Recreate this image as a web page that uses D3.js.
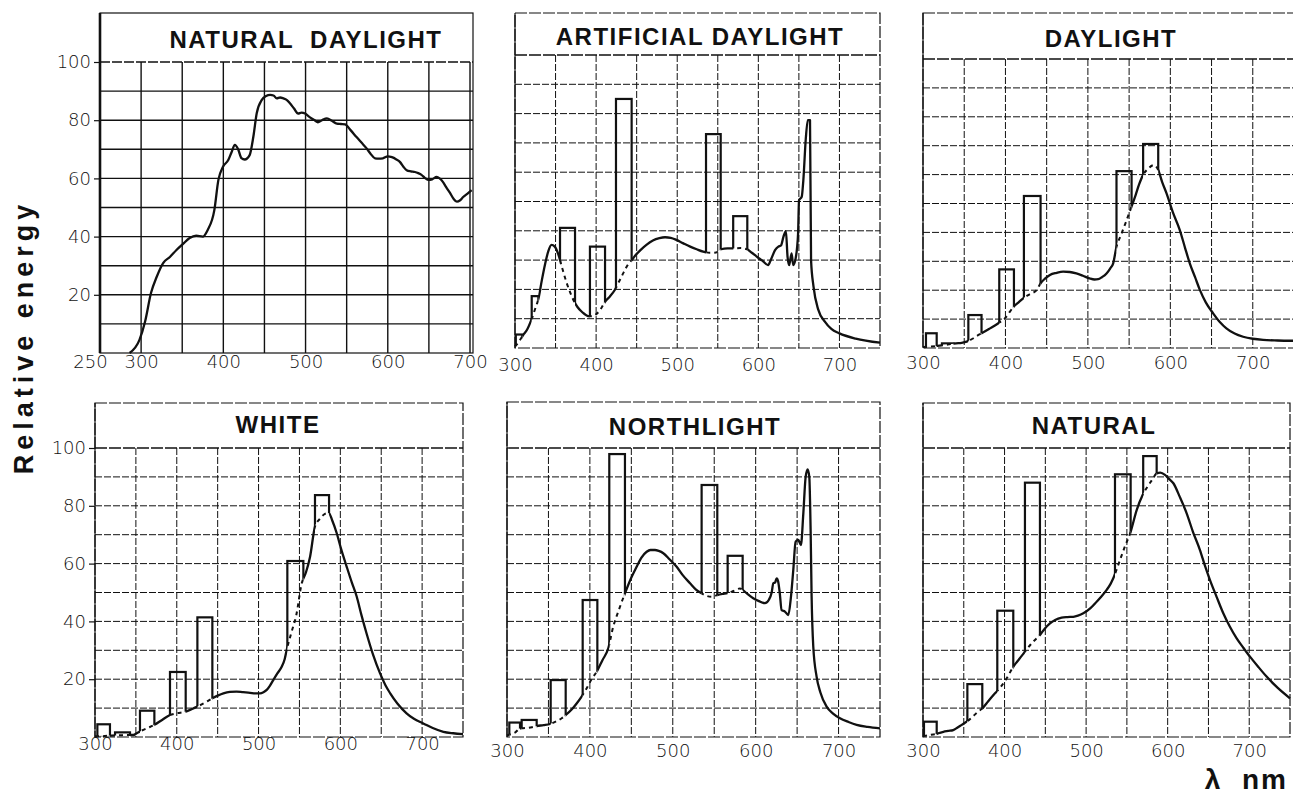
<!DOCTYPE html>
<html><head><meta charset="utf-8">
<script src="https://cdn.jsdelivr.net/npm/d3@7"></script>
<style>body{margin:0;background:#fff}svg{display:block}</style>
</head><body><svg id="c" width="1293" height="798"></svg>
<script>
// ---------------- DATA ----------------
const panelTitles = ["NATURAL  DAYLIGHT", "ARTIFICIAL DAYLIGHT", "DAYLIGHT", "WHITE", "NORTHLIGHT", "NATURAL"];
const xTicksFirst = [250, 300, 400, 500, 600, 700];
const xTicks = [300, 400, 500, 600, 700];
const yTicks = [20, 40, 60, 80, 100];
const yAxisLabel = "Relative energy";
const xAxisLabel = "λ  nm";

// [wavelength nm, relative energy]
const naturalDaylightCurve = [[286,0],[298,4.5],[305,11],[312,20.6],[319,26.2],[327,31],[335,33],[343,35.4],[351,37.5],[359,39.5],[367,40.3],[375,40],[381,42.3],[389,49],[394,59.5],[399.6,64],[406,66.3],[410,69],[414,71.5],[418,70],[422,67],[426,66.5],[432,68],[436.5,74.3],[440.6,82.4],[446.8,87],[452,88.3],[457,88.7],[461,88.5],[465,87.5],[469,87.8],[473,87.5],[477,87],[481,85.8],[486,84],[491,82.3],[495,82.6],[499.4,82.3],[503,81.5],[507.5,80.6],[511,80],[515,79.3],[520,80],[526,80.6],[532,79.8],[538,78.8],[543,78.7],[548,78.6],[555,76.5],[562,74.2],[568,72.3],[574,70.4],[579,68.5],[584.5,66.9],[589,66.8],[594,66.9],[600,67.6],[605,67.3],[610,66.6],[615,65.6],[619,64],[623,62.8],[628,62.4],[633,62.2],[637,61.8],[641,61.2],[645,60.2],[649,59.5],[654,59.7],[659.5,60.5],[663,60],[667,58.8],[671,57],[675.7,55],[680,53],[684,52],[688,52.5],[691.7,53.6],[697,54.8],[702,56]];

const artificialCurve = [[300,0.5],[305,2.2],[310,4.4],[315,6.3],[320,9.5],[325,13.5],[329,17],[333,23],[337,28.5],[341,33],[345,35.2],[349,34.6],[353,32.3],[358,27.5],[363,22.8],[368,19],[372,16.4],[377,14],[383,12.2],[390,10.9],[395,10.8],[400,11.5],[405,13],[411,15.8],[417,17.6],[423,19.8],[428,22.5],[434,25.8],[440,28.8],[444,30],[448,31.5],[455,33.5],[462,35.2],[470,36.7],[478,37.5],[485,37.8],[492,37.6],[499,36.9],[507,35.8],[516,34.6],[524,33.7],[532,32.9],[540,32.5],[548,32.6],[554,33.7],[562,34],[569,34],[578,34.1],[586,33.7],[592,32.5],[598,31.2],[605,29.8],[612,28.3],[616,30.5],[620.6,33.4],[624.7,34.6],[628,35],[631,38],[634,39.9],[636,31.2],[638,28.3],[641,32.3],[643,28.3],[646,30.6],[649,39.1],[650.2,50.5],[653.5,51.6],[655.5,57.3],[658.4,71],[661,77.8],[663.7,77.8],[665,30],[668,21],[674,13],[682,9],[690,6.5],[700,5],[720,3.2],[750,1.8]];
// [start nm, end nm, height]
const artificialBars = [[301,309,4.6],[320.6,328.8,17.7],[355.5,374,41],[392.4,411,34.6],[424.5,443.8,85],[535.5,553.6,73],[569,586.4,45]];

const daylightCurve = [[300,0.3],[310,0.5],[320,0.8],[330,1.2],[340,1.6],[347,1.8],[353,2.2],[360,3.2],[366,4.3],[371,5.1],[380,6.6],[391,8.5],[400,10.5],[410,14.3],[416,15.8],[421.6,17.2],[430,18.7],[437.8,20],[442.6,22.4],[448,24],[454,25.3],[462,26],[470,26.4],[478,26.3],[486,25.8],[494,25],[502,24.1],[508,23.7],[512.5,23.8],[517,24.5],[522.6,25.8],[527,27.5],[530.7,29.3],[534.7,35],[540,39],[546,43.5],[553,49],[558,53],[562,56.5],[567,59.9],[573,62],[579.7,63.3],[585.3,61.6],[590,57.5],[595.4,53.5],[603,47],[611.5,40.8],[618,34.5],[623.6,29.3],[630,24.5],[635.8,20.1],[643,15.8],[651.9,12],[660,9],[668,6.8],[678,5],[688.3,3.9],[700,3.2],[712.5,2.8],[730,2.6],[750,2.5]];
const daylightBars = [[303.6,316.6,5.1],[323,337,1.6],[355,371,11.4],[392.5,410.3,27.2],[422.4,442.6,52.6],[534.7,553,61.2],[567,585.3,70.6]];

const whiteCurve = [[300,0.2],[310,0.3],[320,0.5],[330,0.6],[340,0.7],[346.9,0.7],[351,1.3],[357,2.2],[365,3.2],[372.6,4.2],[382,5.9],[391.7,7.6],[400,8.2],[410.9,8.8],[418,9.6],[425,10.5],[435,12],[443.5,13.4],[450,14.3],[457,15.1],[465,15.6],[473,15.7],[481,15.5],[489.6,15.3],[496,15.1],[501.8,15.1],[506,15.5],[510,16.3],[514,17.8],[518,19.7],[523,22],[528.3,24.3],[532,27],[534.4,30.1],[540,36],[546,42],[552.8,53.2],[558,57],[563,62.4],[569,72.8],[575,75.5],[580,77],[584,77.4],[586.2,77.4],[590,75],[595.6,70.5],[601,65],[607.8,58.9],[614,53.5],[620,48.6],[626,42],[632,35.9],[640,28.5],[648.6,22],[655,18],[661,15.1],[670,11.5],[681,8.2],[690,6.3],[701.5,4.7],[713,3.1],[726,1.8],[738,1.3],[750,1]];
const whiteBars = [[302.9,318.3,4.4],[324.5,342.8,1.6],[355,372.6,9.1],[391.7,410.9,22.5],[425.2,443.5,41.4],[535.2,554.8,60.9],[569,586.2,83.7]];

const northlightCurve = [[300,0.5],[305,1],[310,1.6],[316,3],[322,3.1],[330,3.4],[336,3.8],[344,4.1],[352,4.5],[360,5.5],[366,6.5],[370.8,7.6],[378,9.5],[384,11.6],[390,14],[396,16.8],[402,20],[408.2,22.6],[415,26.5],[422.2,30.7],[428,38],[435,44],[442.3,49.7],[449,54.5],[456.4,58.9],[462,62],[468.5,64.1],[473,64.7],[478.5,64.7],[483,64.4],[488.6,63.6],[496,61.5],[504.7,58.9],[512,56],[520.8,53.2],[528,51],[534.8,49.7],[541,48.8],[547,48.5],[553.7,49.1],[560,49.5],[566,49.8],[573,50.5],[581,51.4],[584.3,50.9],[590,49.5],[597.1,48],[604,47],[611.2,46.3],[616,47.5],[619.3,50],[621.3,53.2],[623.5,53.5],[625.3,54.9],[627,54],[629,50],[631.3,43.9],[635.3,43.4],[639.4,42.2],[642.6,48.6],[645.4,57.8],[648.2,67.6],[651.4,68.2],[654.6,66.4],[657.5,77.4],[660.3,90],[662.7,92.6],[664.7,90],[666.3,71.6],[667.5,48.6],[669.5,31.3],[673.5,20.9],[678,15.5],[685.6,10.5],[693,8.2],[701.7,6.5],[712,5.2],[721.8,4.2],[735,3.5],[750,3]];
const northlightBars = [[302.8,315.7,5],[317.7,335.8,5.9],[352.7,370.8,19.7],[391.3,409,47.4],[423.4,442.3,97.9],[534.8,553.7,87.2],[566.2,584.3,62.7]];

const naturalCurve = [[300,0.3],[305,0.5],[310,0.8],[316,1],[318.8,1.3],[325,1.8],[331,2.1],[337,2.4],[342,3.2],[347.4,4.2],[353.5,5.3],[360,6.8],[366,8.4],[372.7,9.9],[380,12.4],[388.3,15.1],[395,17.2],[403,20.5],[410.7,24.3],[418,27],[425,29.5],[432,32],[437,33.5],[443.4,35.3],[449,37.4],[455.7,39.3],[462,40.5],[470,41.3],[477,41.5],[484.3,41.6],[490,42],[496.6,42.8],[505,44.5],[512.9,46.8],[519,48.7],[525.2,50.9],[530,53],[533.3,54.9],[540,60],[547,65.5],[554.6,71],[562,78.5],[569.3,83.7],[575,86.5],[581,89],[586.5,91.2],[591,91.5],[596.7,90.7],[601,89.5],[607,87.8],[615,83],[623.3,77.4],[631,71],[639.6,64.7],[646,59],[651.9,54.3],[660,48.5],[668.2,42.8],[676,38.3],[684.6,34.1],[693,30.8],[700.9,27.8],[711,24.3],[721.3,20.9],[735,17],[750,13.4]];
const naturalBars = [[301.2,316.8,5.3],[354.4,372.7,18.3],[391.1,410.7,43.7],[425,443.4,88],[535.4,554.6,90.9],[570,586.5,97.2]];

// ---------------- LAYOUT ----------------
const layout = [
  {d0:250,d1:700,left:100,right:470,frameRight:473,gridMax:700,top:13,plotTop:62,bottom:353,titleX:306,titleY:48,pad:2,solid:true},
  {d0:300,d1:750,left:515,right:880,frameRight:880,gridMax:700,top:13,plotTop:55,bottom:348,titleX:700,titleY:45,pad:10},
  {d0:300,d1:750,left:923,right:1294,frameRight:1294,gridMax:700,top:13,plotTop:59,bottom:348,titleX:1111,titleY:47,pad:8},
  {d0:300,d1:750,left:95,right:463,frameRight:463,gridMax:700,top:403,plotTop:448,bottom:737,titleX:278,titleY:433,pad:0},
  {d0:300,d1:750,left:507,right:880,frameRight:880,gridMax:700,top:402,plotTop:448,bottom:737,titleX:695,titleY:435,pad:7},
  {d0:300,d1:750,left:923,right:1290,frameRight:1290,gridMax:700,top:403,plotTop:448,bottom:737,titleX:1094,titleY:434,pad:7}
];

const svg = d3.select('#c');
const defs = svg.append('defs');
const INK = '#111';
const tickFont = "'DejaVu Sans', 'Liberation Sans', sans-serif";
const boldFont = "'Liberation Sans', Arial, sans-serif";

function drawPanel(idx, title, curve, bars, ticks, showY) {
  const L = layout[idx];
  const g = svg.append('g');
  const x = d3.scaleLinear().domain([L.d0, L.d1]).range([L.left, L.right]);
  const y = d3.scaleLinear().domain([0, 100]).range([L.bottom, L.plotTop]);
  const gw = L.solid ? 1.4 : 1;
  const gd = L.solid ? null : '7,2';

  // grid
  g.selectAll('.vg').data(d3.range(L.d0 + 50, L.gridMax + 1, 50)).join('line')
    .attr('x1', d => x(d)).attr('x2', d => x(d))
    .attr('y1', L.plotTop).attr('y2', L.bottom)
    .attr('stroke', INK).attr('stroke-width', gw).attr('stroke-dasharray', gd);
  g.selectAll('.hg').data(d3.range(10, 100, 10)).join('line')
    .attr('x1', L.left).attr('x2', L.frameRight)
    .attr('y1', d => y(d)).attr('y2', d => y(d))
    .attr('stroke', INK).attr('stroke-width', gw).attr('stroke-dasharray', gd);

  // frame
  g.append('rect').attr('x', L.left).attr('y', L.top)
    .attr('width', L.frameRight - L.left).attr('height', L.bottom - L.top)
    .attr('fill', 'none').attr('stroke', INK).attr('stroke-width', 1.2)
    .attr('stroke-dasharray', L.solid ? null : '12,2');
  g.append('line').attr('x1', L.left).attr('x2', L.frameRight)
    .attr('y1', L.plotTop).attr('y2', L.plotTop)
    .attr('stroke', INK).attr('stroke-width', 1.3).attr('stroke-dasharray', L.solid ? '10,2' : '12,2');
  g.append('line').attr('x1', L.left).attr('x2', L.left)
    .attr('y1', L.top).attr('y2', L.bottom)
    .attr('stroke', INK).attr('stroke-width', L.solid ? 2.6 : 1.2);

  // title
  g.append('text').attr('x', L.titleX).attr('y', L.titleY)
    .attr('text-anchor', 'middle').attr('font-family', boldFont)
    .attr('font-weight', 'bold').attr('font-size', 24).attr('letter-spacing', 1.5)
    .attr('fill', INK).style('white-space', 'pre').text(title);

  // curve
  const line = d3.line().x(d => x(d[0])).y(d => y(d[1])).curve(d3.curveMonotoneX);
  const area = d3.area().x(d => x(d[0])).y0(L.plotTop - 40).y1(d => y(d[1])).curve(d3.curveMonotoneX);
  defs.append('clipPath').attr('id', 'above' + idx).append('path').attr('d', area(curve));

  const gaps = [];
  let prev = L.left - 30;
  bars.forEach(b => { gaps.push([prev, x(b[0])]); prev = x(b[1]); });
  gaps.push([prev, L.right + 30]);
  const cs = defs.append('clipPath').attr('id', 'solid' + idx);
  gaps.forEach(([a, b]) => cs.append('rect').attr('x', a).attr('width', Math.max(0, b - a))
    .attr('y', L.plotTop - 40).attr('height', L.bottom - L.plotTop + 80));
  const cd = defs.append('clipPath').attr('id', 'dash' + idx);
  bars.forEach(b => cd.append('rect').attr('x', x(b[0])).attr('width', x(b[1]) - x(b[0]))
    .attr('y', L.plotTop - 40).attr('height', L.bottom - L.plotTop + 80));

  if (bars.length) {
    g.append('path').attr('d', line(curve)).attr('fill', 'none')
      .attr('stroke', INK).attr('stroke-width', 2).attr('stroke-dasharray', '4,4')
      .attr('clip-path', `url(#dash${idx})`);
  }
  g.append('path').attr('d', line(curve)).attr('fill', 'none')
    .attr('stroke', INK).attr('stroke-width', 2.3).attr('stroke-linejoin', 'round')
    .attr('clip-path', `url(#solid${idx})`);

  g.selectAll('.bar').data(bars).join('rect')
    .attr('x', d => x(d[0])).attr('y', d => y(d[2]))
    .attr('width', d => x(d[1]) - x(d[0])).attr('height', d => y(0) - y(d[2]))
    .attr('fill', 'none').attr('stroke', INK).attr('stroke-width', 2.2)
    .attr('clip-path', `url(#above${idx})`);

  // axes
  const xa = g.append('g').attr('transform', `translate(0,${L.bottom})`)
    .call(d3.axisBottom(x).tickValues(ticks).tickSize(0).tickPadding(L.pad));
  xa.select('.domain').remove();
  xa.selectAll('text').attr('font-family', tickFont).attr('font-size', 18)
    .attr('font-weight', 300).attr('fill', '#111');
  if (idx === 0) xa.selectAll('text').filter(d => d === 250).attr('dx', -10);

  if (showY) {
    const ya = g.append('g').attr('transform', `translate(${L.left},0)`)
      .call(d3.axisLeft(y).tickValues(yTicks).tickSize(6).tickPadding(3));
    ya.select('.domain').remove();
    ya.selectAll('line').attr('stroke', INK).attr('stroke-width', 1.2);
    ya.selectAll('text').attr('font-family', tickFont).attr('font-size', 18)
      .attr('font-weight', 300).attr('fill', '#111');
  }
}

drawPanel(0, panelTitles[0], naturalDaylightCurve, [], xTicksFirst, true);
drawPanel(1, panelTitles[1], artificialCurve, artificialBars, xTicks, false);
drawPanel(2, panelTitles[2], daylightCurve, daylightBars, xTicks, false);
drawPanel(3, panelTitles[3], whiteCurve, whiteBars, xTicks, true);
drawPanel(4, panelTitles[4], northlightCurve, northlightBars, xTicks, false);
drawPanel(5, panelTitles[5], naturalCurve, naturalBars, xTicks, false);

svg.append('text').attr('transform', 'translate(33,337) rotate(-90)')
  .attr('text-anchor', 'middle').attr('font-family', boldFont).attr('font-weight', 'bold')
  .attr('font-size', 27).attr('letter-spacing', 5).attr('fill', INK).text(yAxisLabel);
svg.append('text').attr('x', 1288).attr('y', 789).attr('text-anchor', 'end')
  .attr('font-family', boldFont).attr('font-weight', 'bold').attr('font-size', 28)
  .attr('letter-spacing', 2).attr('fill', INK).style('white-space', 'pre').text(xAxisLabel);
</script></body></html>
